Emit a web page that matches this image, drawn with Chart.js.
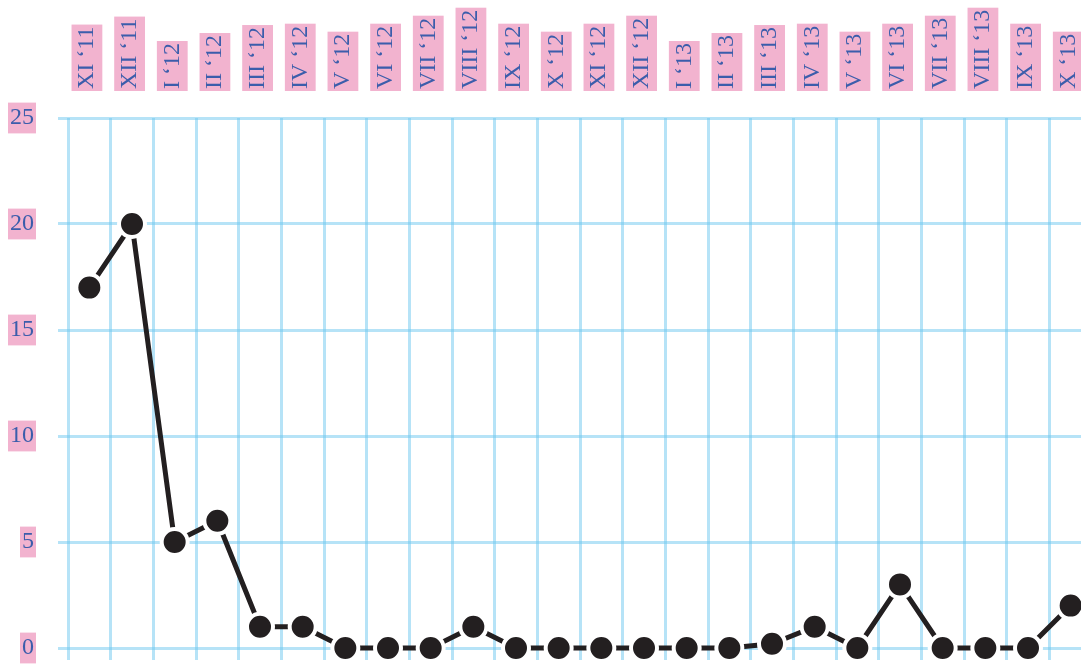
<!DOCTYPE html>
<html>
<head>
<meta charset="utf-8">
<script src="https://cdn.jsdelivr.net/npm/chart.js@4"></script>
<style>
  html, body { margin: 0; padding: 0; background: #ffffff; overflow: hidden; }
  canvas { display: block; }
</style>
</head>
<body>
<canvas id="chart" width="1092" height="664"></canvas>
<script>
// months, Nov 2011 - Oct 2013
const months = [
  "XI \u201811", "XII \u201811",
  "I \u201812", "II \u201812", "III \u201812", "IV \u201812", "V \u201812", "VI \u201812",
  "VII \u201812", "VIII \u201812", "IX \u201812", "X \u201812", "XI \u201812", "XII \u201812",
  "I \u201813", "II \u201813", "III \u201813", "IV \u201813", "V \u201813", "VI \u201813",
  "VII \u201813", "VIII \u201813", "IX \u201813", "X \u201813"
];

const counts = [17, 20, 5, 6, 1, 1, 0, 0, 0, 1, 0, 0, 0, 0, 0, 0, 0.2, 1, 0, 3, 0, 0, 0, 2];

const yTicks = [0, 5, 10, 15, 20, 25];

const pink = '#f2b3cf';
const blue = '#3b5dab';
const gridBlue = 'rgba(110, 200, 240, 0.5)';
const labelFont = { family: '"Liberation Serif", serif', size: 24, lineHeight: 1.2 };

// chart.js adds room for the rotated labels, we don't want it
const noPad = s => { s.paddingLeft = s.paddingRight = s.paddingTop = s.paddingBottom = 0; };

const ctx = document.getElementById('chart');

const chart = new Chart(ctx, {
  type: 'line',
  data: {
    labels: months,
    datasets: [{
      data: counts,
      borderColor: '#231f20',
      borderWidth: 5,
      tension: 0,
      pointRadius: 13,
      pointHoverRadius: 13,
      pointBackgroundColor: '#231f20',
      pointBorderColor: '#ffffff',
      pointBorderWidth: 4,
      clip: false
    }]
  },
  options: {
    responsive: false,
    animation: false,
    layout: { padding: 0, autoPadding: false },
    plugins: {
      legend: { display: false },
      tooltip: { enabled: false }
    },
    scales: {
      // month labels on top
      x: {
        type: 'category',
        position: 'top',
        offset: true,
        grid: { display: false },
        border: { display: false },
        ticks: {
          autoSkip: false,
          minRotation: 90,
          maxRotation: 90,
          padding: 21,
          labelOffset: 12,
          color: blue,
          font: labelFont,
          showLabelBackdrop: true,
          backdropColor: pink,
          backdropPadding: { top: 1, bottom: 1, left: 2, right: 2 }
        },
        afterFit: s => { s.height = 118; noPad(s); }
      },
      // bottom axis only for the vertical grid lines
      xb: {
        type: 'category',
        position: 'bottom',
        offset: true,
        labels: months,
        grid: {
          display: true,
          color: gridBlue,
          lineWidth: 3,
          drawTicks: true,
          tickLength: 12,
          offset: true
        },
        border: { display: false },
        ticks: { display: false },
        afterFit: s => { s.height = 16; noPad(s); }
      },
      y: {
        min: 0,
        max: 25,
        afterBuildTicks: s => { s.ticks = yTicks.map(v => ({ value: v })); },
        grid: {
          color: gridBlue,
          lineWidth: 3,
          drawTicks: true,
          tickLength: 10
        },
        border: { display: false },
        ticks: {
          padding: 24,
          color: blue,
          font: labelFont,
          showLabelBackdrop: true,
          backdropColor: pink,
          backdropPadding: { top: 1, bottom: 1, left: 2, right: 2 }
        },
        afterFit: s => { s.width = 68; noPad(s); }
      }
    }
  }
});
</script>
</body>
</html>
